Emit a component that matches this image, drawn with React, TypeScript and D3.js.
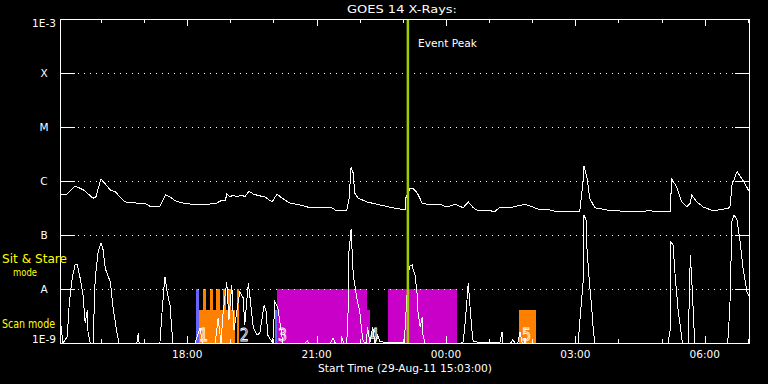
import React from 'react';
import * as d3 from 'd3';

// Start of the plotted interval (UTC) and its length in minutes
const START_UTC = Date.UTC(2011, 7, 29, 15, 3);
const SPAN_MIN = 960;

const titleText = 'GOES 14 X-Rays:';
const xAxisTitle = 'Start Time (29-Aug-11 15:03:00)';
const eventLabel = 'Event Peak';
const eventPeakMin = 484;

const yTickValues = [1e-9, 1e-8, 1e-7, 1e-6, 1e-5, 1e-4, 1e-3];
const yTickLabels = ['1E-9', 'A', 'B', 'C', 'M', 'X', '1E-3'];
const gridLevels = [1e-8, 1e-7, 1e-6, 1e-5, 1e-4];

// Long channel (1-8 A): [minutes after start, flux W/m^2]
const longChannel: [number, number][] = [
  [0, 5.7e-7], [8, 5.5e-7], [21, 8.1e-7], [33, 6.8e-7], [46, 4.8e-7], [50, 5.1e-7],
  [57, 1.1e-6], [70, 6.8e-7], [77, 6.3e-7], [90, 4.1e-7], [107, 3.9e-7], [118, 3.9e-7],
  [125, 3.4e-7], [135, 3.3e-7], [139, 3.4e-7], [147, 5.5e-7], [153, 5.1e-7], [160, 4.3e-7],
  [171, 3.9e-7], [185, 3.7e-7], [205, 3.7e-7], [218, 3.9e-7], [225, 4.4e-7], [230, 4.3e-7],
  [232, 5.7e-7], [237, 5.1e-7], [241, 5.5e-7], [246, 5.1e-7], [253, 5.5e-7], [257, 5.1e-7],
  [263, 6.5e-7], [269, 5.7e-7], [278, 5.3e-7], [285, 5.1e-7], [295, 4.1e-7], [302, 5.7e-7],
  [309, 4.8e-7], [320, 3.9e-7], [334, 3.6e-7], [348, 3.2e-7], [362, 3.2e-7], [378, 3.2e-7],
  [383, 2.9e-7], [399, 2.9e-7], [402, 4.4e-7], [405, 1.8e-6], [408, 1.4e-6], [410, 6.0e-7],
  [415, 4.8e-7], [427, 4.1e-7], [445, 3.6e-7], [463, 3.2e-7], [480, 2.9e-7], [481, 4.8e-7],
  [487, 7.4e-7], [491, 7.4e-7], [497, 6.0e-7], [504, 3.9e-7], [515, 3.6e-7], [531, 3.6e-7],
  [538, 3.3e-7], [550, 3.7e-7], [561, 3.2e-7], [568, 4.1e-7], [575, 3.2e-7], [582, 2.8e-7],
  [594, 2.9e-7], [605, 2.7e-7], [612, 3.3e-7], [630, 3.3e-7], [647, 3.7e-7], [658, 3.3e-7],
  [668, 2.9e-7], [678, 3.0e-7], [691, 2.7e-7], [705, 2.7e-7], [723, 2.7e-7], [728, 1.04e-6],
  [729, 1.9e-6], [733, 1.2e-6], [737, 4.8e-7], [744, 3.2e-7], [761, 2.9e-7], [793, 2.7e-7],
  [821, 2.8e-7], [839, 2.7e-7], [849, 2.7e-7], [851, 1.1e-6], [858, 7.7e-7], [865, 4.1e-7],
  [872, 3.3e-7], [877, 3.9e-7], [879, 5.5e-7], [886, 4.1e-7], [895, 3.3e-7], [909, 2.8e-7],
  [922, 3.0e-7], [932, 3.2e-7], [935, 8.4e-7], [942, 1.5e-6], [950, 1.04e-6], [960, 6.0e-7],
];

// Short channel (0.5-4 A): [minutes after start, flux W/m^2]
const shortChannel: [number, number][] = [
  [0, 1e-9], [1, 2.35e-9], [4, 1e-9], [10, 1.29e-9], [13, 5.7e-9], [17, 1.6e-8], [21, 2.8e-8],
  [24, 2.8e-8], [28, 1.6e-8], [32, 7.7e-9], [35, 2.35e-9], [38, 4.1e-9], [39, 1.6e-9], [42, 1e-9],
  [46, 1e-9], [49, 1.6e-8], [53, 4.8e-8], [57, 7.1e-8], [60, 5.3e-8], [63, 2.4e-8], [70, 1.35e-8],
  [74, 4.4e-9], [79, 1.6e-9], [82, 1e-9], [107, 1e-9], [109, 1.53e-9], [110, 1e-9], [139, 1e-9],
  [142, 3.8e-9], [145, 1.19e-8], [146, 1.67e-8], [149, 8.8e-9], [153, 5.1e-9], [157, 1e-9],
  [188, 1e-9], [195, 1.9e-9], [198, 1e-9], [216, 1e-9], [220, 2.9e-9], [224, 1e-9], [227, 3.8e-9],
  [232, 1.35e-8], [235, 2.67e-9], [239, 1.19e-8], [242, 1.74e-9], [246, 3.8e-9], [250, 8.8e-9],
  [255, 6.8e-9], [257, 2.15e-9], [262, 1.29e-8], [264, 7.7e-9], [269, 1.9e-9], [274, 1.4e-9],
  [278, 1.53e-9], [284, 5.1e-9], [287, 3.8e-9], [289, 1.4e-9], [296, 1e-9], [299, 5.7e-9],
  [303, 4.6e-9], [306, 2.35e-9], [310, 1e-9], [341, 1e-9], [344, 1.1e-9], [346, 1e-9],
  [376, 1e-9], [380, 1.24e-9], [383, 1e-9], [391, 1e-9], [392, 1.24e-9], [395, 1e-9], [399, 1e-9],
  [401, 4.6e-9], [402, 4.8e-8], [405, 1.29e-7], [406, 6.5e-8], [408, 1.8e-8], [413, 6.8e-9],
  [417, 3.8e-9], [420, 1.6e-9], [422, 1.05e-9], [426, 1e-9], [428, 2.0e-9], [431, 1e-9],
  [434, 1.6e-9], [435, 2.0e-9], [438, 1e-9], [442, 1.4e-9], [445, 1.05e-9], [479, 1e-9],
  [483, 8.8e-9], [486, 2.6e-8], [490, 2.8e-8], [491, 2.4e-8], [494, 1.8e-8], [497, 7.7e-9],
  [498, 3.8e-9], [501, 2.0e-9], [504, 3.0e-9], [505, 1.4e-9], [508, 1e-9], [558, 1e-9],
  [561, 1.05e-9], [563, 1.9e-9], [566, 5.7e-9], [568, 1.29e-8], [570, 5.7e-9], [573, 1.74e-9],
  [575, 1.05e-9], [612, 1e-9], [615, 1.6e-9], [616, 1e-9], [627, 1e-9], [630, 1.14e-9],
  [633, 1e-9], [637, 1e-9], [640, 1.6e-9], [643, 1e-9], [646, 1e-9], [647, 1.24e-9], [648, 1e-9],
  [721, 1e-9], [723, 2.35e-9], [728, 1.47e-8], [729, 2.34e-7], [732, 1.9e-7], [733, 6.0e-8],
  [736, 1.67e-8], [740, 4.1e-9], [742, 1.74e-9], [744, 1e-9], [846, 1e-9], [849, 1.74e-9],
  [850, 7.4e-8], [853, 6.5e-8], [856, 1.67e-8], [860, 4.1e-9], [866, 1e-9], [874, 1e-9],
  [877, 4.3e-8], [879, 1.47e-8], [881, 4.1e-9], [883, 1e-9], [929, 1e-9], [932, 4.6e-9],
  [935, 1.9e-7], [938, 2.34e-7], [942, 1.9e-7], [946, 8.1e-8], [950, 2.6e-8], [956, 8.4e-9],
  [960, 7.1e-9],
];

// Observation timeline blocks: minutes after start
const obsStart = [189.2, 193.0, 199.0, 208.0, 217.0, 226.1, 234.4, 245.8, 299.1, 301.5, 426.7, 455.9, 638.6];
const obsEnd = [193.0, 243.9, 203.1, 212.9, 222.6, 231.0, 237.9, 249.5, 301.5, 426.7, 431.3, 551.9, 662.3];
const obsMode = ['stare', 'scan', 'stare', 'stare', 'stare', 'stare', 'stare', 'stare', 'scan', 'stare', 'scan', 'stare', 'scan'];
const obsProgram = ['p1', 'p2', 'p2', 'p2', 'p2', 'p2', 'p2', 'p2', 'p1', 'p3', 'p3', 'p3', 'p2'];

const obsNumberMin = [189.2, 245.8, 299.1, 426.7, 638.6];
const obsNumbers = ['1', '2', '3', '4', '5'];

const programColor: Record<string, string> = { p1: '#6666ff', p2: '#ff8000', p3: '#c800c8' };

const FONT = 'DejaVu Sans, sans-serif';

export default function App() {
  React.useEffect(() => {
    document.body.style.margin = '0';
    document.body.style.background = '#000';
  }, []);

  const W = 768, H = 384;
  const L = 60, R = 750, T = 19, B = 343;
  const tm = (m: number) => new Date(START_UTC + m * 60000);
  const x = d3.scaleUtc().domain([tm(0), tm(SPAN_MIN)]).range([L, R]);
  const y = d3.scaleLog().domain([1e-9, 1e-3]).range([B, T]).clamp(true);
  const line = d3.line<[number, number]>().x(d => x(tm(d[0]))).y(d => y(d[1]));
  const hours = x.ticks(d3.utcHour.every(1) as any);
  const fmt = d3.utcFormat('%H:%M');
  const stareTop = y(1e-8);
  const scanTop = y(4.1e-9);
  const evx = x(tm(eventPeakMin));

  return (
    <svg width={W} height={H} style={{ display: 'block', position: 'absolute', left: 0, top: 0, background: '#000' }}>
      <rect x={0} y={0} width={W} height={H} fill="#000" />
      {/* observation blocks */}
      {obsStart.map((s, i) => {
        const x0 = x(tm(s));
        const x1 = x(tm(obsEnd[i]));
        const top = obsMode[i] === 'stare' ? stareTop : scanTop;
        return <rect key={'o' + i} x={x0} y={top} width={x1 - x0} height={B - top} fill={programColor[obsProgram[i]]} shapeRendering="crispEdges" />;
      })}
      {/* grid dotted lines + ticks on y */}
      {gridLevels.map((v, i) => (
        <line key={'g' + i} x1={78} x2={735} y1={Math.round(y(v)) + 0.5} y2={Math.round(y(v)) + 0.5} stroke="#fff" strokeWidth={1} strokeDasharray="1 5" shapeRendering="crispEdges" />
      ))}
      {yTickValues.map((v, i) => (
        <g key={'yt' + i}>
          <line x1={L} x2={L + 15} y1={Math.round(y(v)) + 0.5} y2={Math.round(y(v)) + 0.5} stroke="#fff" shapeRendering="crispEdges" />
          <line x1={R - 15} x2={R} y1={Math.round(y(v)) + 0.5} y2={Math.round(y(v)) + 0.5} stroke="#fff" shapeRendering="crispEdges" />
        </g>
      ))}
      {/* curves */}
      <path d={line(shortChannel) || ''} fill="none" stroke="#fff" strokeWidth={1} shapeRendering="crispEdges" />
      <path d={line(longChannel) || ''} fill="none" stroke="#fff" strokeWidth={1} shapeRendering="crispEdges" />
      {/* event peak */}
      <line x1={evx} x2={evx} y1={T} y2={B} stroke="#a0cc00" strokeWidth={2.5} />
      <text x={418} y={47} fill="#fff" fontFamily={FONT} fontSize={10.5} textLength={59} lengthAdjust="spacingAndGlyphs">{eventLabel}</text>
      {/* observation numbers */}
      {obsNumberMin.map((m, i) => (
        <text key={'n' + i} x={x(tm(m)) + 3} y={341} fill="none" stroke="#fff" strokeWidth={0.9} fontFamily={FONT} fontSize={17} textLength={9} lengthAdjust="spacingAndGlyphs">{obsNumbers[i]}</text>
      ))}
      {/* frame */}
      <rect x={L + 0.5} y={T + 0.5} width={R - L - 1} height={B - T} fill="none" stroke="#fff" strokeWidth={1} shapeRendering="crispEdges" />
      {/* x ticks */}
      {hours.map((h, i) => {
        const major = h.getUTCHours() % 3 === 0;
        const len = major ? 7 : 4;
        const xx = Math.round(x(h)) + 0.5;
        return (
          <g key={'xt' + i}>
            <line x1={xx} x2={xx} y1={T} y2={T + len} stroke="#fff" shapeRendering="crispEdges" />
            <line x1={xx} x2={xx} y1={B} y2={B - len} stroke="#fff" shapeRendering="crispEdges" />
            {major && (
              <text x={x(h)} y={358} fill="#fff" fontFamily={FONT} fontSize={10.5} textAnchor="middle">{fmt(h)}</text>
            )}
          </g>
        );
      })}
      {/* y labels */}
      {yTickValues.map((v, i) => {
        const yy = y(v);
        const by = i === yTickValues.length - 1 ? yy + 8 : i === 0 ? yy : yy + 4;
        return <text key={'yl' + i} x={44} y={by} fill="#fff" fontFamily={FONT} fontSize={10.5} textAnchor="middle">{yTickLabels[i]}</text>;
      })}
      {/* mode labels */}
      <text x={2} y={262.5} fill="#ffff00" fontFamily={FONT} fontSize={11.5} textLength={65} lengthAdjust="spacingAndGlyphs">Sit &amp; Stare</text>
      <text x={13} y={276} fill="#ffff00" fontFamily={FONT} fontSize={11} textLength={24} lengthAdjust="spacingAndGlyphs">mode</text>
      <text x={2} y={327.5} fill="#ffff00" fontFamily={FONT} fontSize={12} textLength={53} lengthAdjust="spacingAndGlyphs">Scan mode</text>
      {/* titles */}
      <text x={347} y={12.5} fill="#fff" fontFamily={FONT} fontSize={10} textLength={110} lengthAdjust="spacingAndGlyphs">{titleText}</text>
      <text x={318} y={372} fill="#fff" fontFamily={FONT} fontSize={10.5} textLength={174} lengthAdjust="spacingAndGlyphs">{xAxisTitle}</text>
    </svg>
  );
}
